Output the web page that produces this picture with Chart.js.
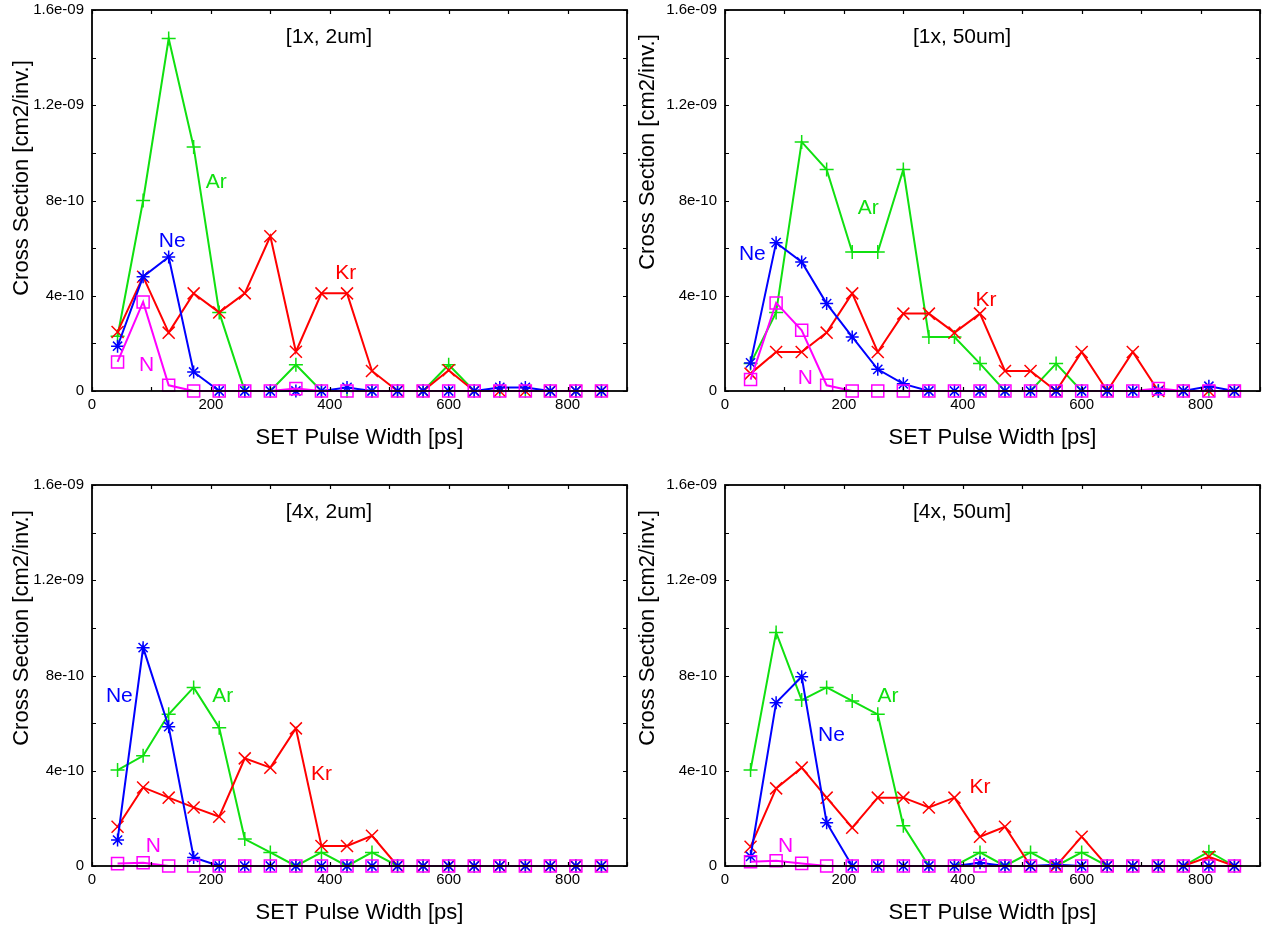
<!DOCTYPE html>
<html>
<head>
<meta charset="utf-8">
<script src="https://cdn.jsdelivr.net/npm/chart.js@4.4.1/dist/chart.umd.min.js"></script>
<style>
  body { margin: 0; background: #fff; width: 1265px; height: 929px; position: relative; overflow: hidden; }
  canvas { position: absolute; }
</style>
</head>
<body>
<canvas id="p1" width="637" height="471" style="left:0px;top:-7px"></canvas>
<canvas id="p2" width="637" height="471" style="left:633px;top:-7px"></canvas>
<canvas id="p3" width="637" height="461" style="left:0px;top:468px"></canvas>
<canvas id="p4" width="637" height="461" style="left:633px;top:468px"></canvas>
<script>
// SET pulse width bins [ps]
const pulseWidths = [43, 86, 129, 171, 214, 257, 300, 343, 386, 429, 471, 514, 557, 600, 643, 686, 729, 771, 814, 857];
const panelTitles = ['[1x, 2um]', '[1x, 50um]', '[4x, 2um]', '[4x, 50um]'];

// [1x, 2um]
const ar1 = [2.3e-10, 8.0e-10, 1.48e-9, 1.025e-9, 3.3e-10, 0, 0, 1.1e-10, 0, 0, 0, 0, 0, 1.1e-10, 0, 0, 0, 0, 0, 0];
const kr1 = [2.48e-10, 4.8e-10, 2.45e-10, 4.1e-10, 3.3e-10, 4.1e-10, 6.5e-10, 1.65e-10, 4.1e-10, 4.1e-10, 0.84e-10, 0, 0, 0.87e-10, 0, 0, 0, 0, 0, 0];
const ne1 = [1.88e-10, 4.8e-10, 5.63e-10, 0.8e-10, 0, 0, 0, 0, 0, 0.15e-10, 0, 0, 0, 0, 0, 0.15e-10, 0.15e-10, 0, 0, 0];
const n1  = [1.22e-10, 3.74e-10, 0.24e-10, 0, 0, 0, 0, 0.1e-10, 0, 0, 0, 0, 0, 0, 0, 0, 0, 0, 0, 0];

// [1x, 50um]
const ar2 = [1.15e-10, 3.3e-10, 1.046e-9, 9.3e-10, 5.84e-10, 5.84e-10, 9.3e-10, 2.27e-10, 2.27e-10, 1.15e-10, 0, 0, 1.15e-10, 0, 0, 0, 0, 0, 0, 0];
const kr2 = [0.73e-10, 1.64e-10, 1.64e-10, 2.45e-10, 4.1e-10, 1.64e-10, 3.25e-10, 3.25e-10, 2.45e-10, 3.25e-10, 0.84e-10, 0.84e-10, 0, 1.64e-10, 0, 1.64e-10, 0, 0, 0, 0];
const ne2 = [1.18e-10, 6.23e-10, 5.42e-10, 3.67e-10, 2.27e-10, 0.91e-10, 0.3e-10, 0, 0, 0, 0, 0, 0, 0, 0, 0, 0, 0, 0.2e-10, 0];
const n2  = [0.48e-10, 3.7e-10, 2.55e-10, 0.24e-10, 0, 0, 0, 0, 0, 0, 0, 0, 0, 0, 0, 0, 0.1e-10, 0, 0, 0];

// [4x, 2um]
const ar3 = [4.03e-10, 4.63e-10, 6.37e-10, 7.5e-10, 5.81e-10, 1.13e-10, 0.57e-10, 0, 0.57e-10, 0, 0.57e-10, 0, 0, 0, 0, 0, 0, 0, 0, 0];
const kr3 = [1.65e-10, 3.3e-10, 2.87e-10, 2.46e-10, 2.07e-10, 4.52e-10, 4.13e-10, 5.78e-10, 0.84e-10, 0.84e-10, 1.27e-10, 0, 0, 0, 0, 0, 0, 0, 0, 0];
const ne3 = [1.09e-10, 9.17e-10, 5.85e-10, 0.36e-10, 0, 0, 0, 0, 0, 0, 0, 0, 0, 0, 0, 0, 0, 0, 0, 0];
const n3  = [0.1e-10, 0.14e-10, 0, 0, 0, 0, 0, 0, 0, 0, 0, 0, 0, 0, 0, 0, 0, 0, 0, 0];

// [4x, 50um]
const ar4 = [4.03e-10, 9.81e-10, 6.97e-10, 7.5e-10, 6.93e-10, 6.37e-10, 1.69e-10, 0, 0, 0.57e-10, 0, 0.57e-10, 0, 0.57e-10, 0, 0, 0, 0, 0.6e-10, 0];
const kr4 = [0.81e-10, 3.26e-10, 4.13e-10, 2.87e-10, 1.61e-10, 2.87e-10, 2.87e-10, 2.46e-10, 2.87e-10, 1.23e-10, 1.65e-10, 0, 0, 1.23e-10, 0, 0, 0, 0, 0.39e-10, 0];
const ne4 = [0.4e-10, 6.86e-10, 7.95e-10, 1.82e-10, 0, 0, 0, 0, 0, 0.14e-10, 0, 0, 0.05e-10, 0, 0, 0, 0, 0, 0, 0];
const n4  = [0.18e-10, 0.22e-10, 0.11e-10, 0, 0, 0, 0, 0, 0, 0, 0, 0, 0, 0, 0, 0, 0, 0, 0, 0];

const GREEN = '#10e010', RED = '#ff0000', BLUE = '#0000ff', MAGENTA = '#ff00ff';
const FONT = '"Liberation Sans", Arial, Helvetica, sans-serif';

Chart.defaults.font.family = FONT;
Chart.defaults.color = '#000';
Chart.defaults.animation = false;

function series(label, values, color, style, radius, order) {
  return {
    label: label,
    data: values.map((v, i) => ({ x: pulseWidths[i], y: v })),
    borderColor: color,
    backgroundColor: 'rgba(0,0,0,0)',
    borderWidth: 2,
    pointStyle: style,
    pointRadius: radius,
    pointHoverRadius: radius,
    pointBorderColor: color,
    pointBackgroundColor: 'rgba(0,0,0,0)',
    pointBorderWidth: 1.5,
    tension: 0,
    clip: false,
    order: order
  };
}

function yLabel(v) {
  const n = Math.round(v / 2e-10) * 2;
  if (n % 4 !== 0) return '';
  if (n === 0) return '0';
  return n < 10 ? n + 'e-10' : (n / 10) + 'e-09';
}

// border box, inward ticks and the text annotations
const framePlugin = {
  id: 'frame',
  afterDatasetsDraw(chart, args, opts) {
    const ctx = chart.ctx;
    const a = chart.chartArea;
    const xs = chart.scales.x, ys = chart.scales.y;
    ctx.save();
    ctx.strokeStyle = '#000';
    ctx.lineWidth = 1.2;
    ctx.beginPath();
    xs.ticks.forEach(t => {
      const px = Math.round(xs.getPixelForValue(t.value)) + 0.5;
      ctx.moveTo(px, a.bottom); ctx.lineTo(px, a.bottom - 4);
      ctx.moveTo(px, a.top); ctx.lineTo(px, a.top + 4);
    });
    ys.ticks.forEach(t => {
      const py = Math.round(ys.getPixelForValue(t.value)) + 0.5;
      ctx.moveTo(a.left, py); ctx.lineTo(a.left + 4, py);
      ctx.moveTo(a.right, py); ctx.lineTo(a.right - 4, py);
    });
    ctx.stroke();
    ctx.lineWidth = 1.8;
    ctx.strokeRect(a.left, a.top, a.right - a.left, a.bottom - a.top);

    ctx.textAlign = 'center';
    ctx.textBaseline = 'middle';
    ctx.fillStyle = '#000';
    ctx.font = '21px ' + FONT;
    ctx.fillText(opts.title, a.left + 237, a.top + 27);

    opts.labels.forEach(l => {
      ctx.fillStyle = l.color;
      ctx.font = '21px ' + FONT;
      ctx.fillText(l.text, xs.getPixelForValue(l.x), ys.getPixelForValue(l.y));
    });

    ctx.fillStyle = '#000';
    ctx.font = '22px ' + FONT;
    ctx.fillText('SET Pulse Width [ps]', (a.left + a.right) / 2, a.bottom + 47);
    ctx.translate(opts.yTitleX, opts.yTitleY);
    ctx.rotate(-Math.PI / 2);
    ctx.fillText('Cross Section [cm2/inv.]', 0, 0);
    ctx.restore();
  }
};

function makePanel(id, title, ar, kr, ne, n, labels, xAxisHeight, yTitleX, yTitleY) {
  new Chart(document.getElementById(id), {
    type: 'line',
    data: {
      datasets: [
        series('Ar', ar, GREEN, 'cross', 7, 3),
        series('Kr', kr, RED, 'crossRot', 8.5, 2),
        series('Ne', ne, BLUE, 'star', 6.5, 1),
        series('N', n, MAGENTA, 'rect', 8.5, 0)
      ]
    },
    options: {
      responsive: false,
      devicePixelRatio: 1,
      layout: { padding: 0 },
      plugins: {
        legend: { display: false },
        tooltip: { enabled: false },
        frame: { title: title, labels: labels, yTitleX: yTitleX, yTitleY: yTitleY }
      },
      scales: {
        x: {
          type: 'linear',
          min: 0,
          max: 900,
          grid: { display: false, drawTicks: false },
          border: { display: false },
          ticks: {
            stepSize: 100,
            autoSkip: false,
            maxRotation: 0,
            padding: 5,
            font: { size: 15 },
            callback: v => (v % 200 === 0 ? String(v) : '')
          },
          afterFit: s => { s.height = xAxisHeight; }
        },
        y: {
          min: 0,
          max: 1.6e-9,
          grid: { display: false, drawTicks: false },
          border: { display: false },
          ticks: {
            stepSize: 2e-10,
            autoSkip: false,
            padding: 8,
            font: { size: 15 },
            callback: yLabel
          },
          afterFit: s => { s.width = 92; }
        }
      }
    },
    plugins: [framePlugin]
  });
}

makePanel('p1', panelTitles[0], ar1, kr1, ne1, n1, [
  { text: 'Ar', x: 209, y: 8.78e-10, color: GREEN },
  { text: 'Ne', x: 135, y: 6.29e-10, color: BLUE },
  { text: 'Kr', x: 427, y: 4.95e-10, color: RED },
  { text: 'N', x: 92, y: 1.08e-10, color: MAGENTA }
], 73, 22, 185);

makePanel('p2', panelTitles[1], ar2, kr2, ne2, n2, [
  { text: 'Ar', x: 241, y: 7.67e-10, color: GREEN },
  { text: 'Ne', x: 46, y: 5.74e-10, color: BLUE },
  { text: 'Kr', x: 439, y: 3.81e-10, color: RED },
  { text: 'N', x: 135, y: 0.53e-10, color: MAGENTA }
], 73, 15, 159);

makePanel('p3', panelTitles[2], ar3, kr3, ne3, n3, [
  { text: 'Ne', x: 46, y: 7.14e-10, color: BLUE },
  { text: 'Ar', x: 220, y: 7.14e-10, color: GREEN },
  { text: 'Kr', x: 386, y: 3.87e-10, color: RED },
  { text: 'N', x: 103, y: 0.84e-10, color: MAGENTA }
], 63, 22, 160);

makePanel('p4', panelTitles[3], ar4, kr4, ne4, n4, [
  { text: 'Ar', x: 274, y: 7.14e-10, color: GREEN },
  { text: 'Ne', x: 179, y: 5.5e-10, color: BLUE },
  { text: 'Kr', x: 429, y: 3.31e-10, color: RED },
  { text: 'N', x: 102, y: 0.84e-10, color: MAGENTA }
], 63, 15, 160);
</script>
</body>
</html>
